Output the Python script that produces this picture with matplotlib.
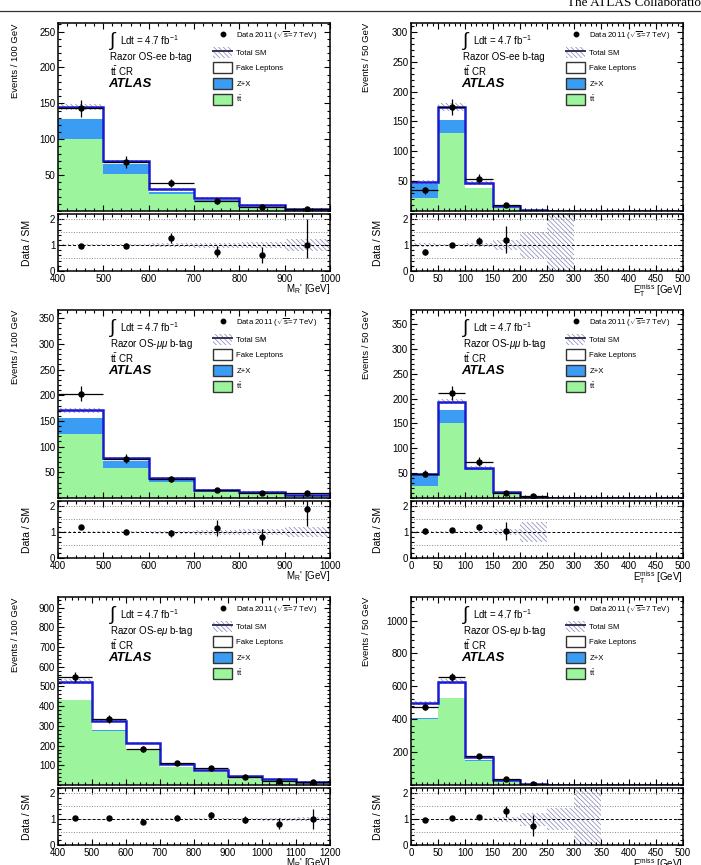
import numpy as np
import matplotlib
matplotlib.use('Agg')
import matplotlib.pyplot as plt
from matplotlib.ticker import MultipleLocator
from matplotlib.patches import Patch
from matplotlib.lines import Line2D

plt.rcParams['font.family'] = ['Liberation Sans', 'DejaVu Sans']
plt.rcParams['mathtext.fontset'] = 'custom'
plt.rcParams['mathtext.rm'] = 'Liberation Sans'
plt.rcParams['mathtext.it'] = 'Liberation Sans:italic'
plt.rcParams['mathtext.bf'] = 'Liberation Sans:bold'
plt.rcParams['hatch.linewidth'] = 0.55

GREEN = '#9cf59c'
BLUE = '#3a9cf2'
TOTAL = '#1a1ad0'
HATCH = '#8c8cbc'
HSTYLE = '\\' * 7

# bin edges
mr_edges = np.arange(400, 1001, 100)
mr_edges_em = np.arange(400, 1201, 100)
met_edges = np.arange(0, 501, 50)

# ---- OS-ee, M_R'
ee_mr_tt = [100, 52, 24, 14, 5.6, 2.0]
ee_mr_zx = [28, 13, 3, 1.5, 0.5, 0.2]
ee_mr_fake = [17, 4, 3, 2.5, 2.0, 0.3]
ee_mr_syst = [0.03, 0.04, 0.07, 0.1, 0.13, 0.22]
ee_mr_data = [143, 68, 39, 14, 5, 2.5]
ee_mr_ratio = [0.98, 0.98, 1.28, 0.75, 0.6, 1.02]
ee_mr_rlo = [0.07, 0.1, 0.2, 0.2, 0.28, 0.5]
ee_mr_rhi = [0.07, 0.1, 0.2, 0.2, 0.32, 1.0]

# ---- OS-ee, MET
ee_met_tt = [21, 130, 38, 6, 1.0, 0.3, 0, 0, 0, 0]
ee_met_zx = [25, 23, 1, 0.5, 0.3, 0.1, 0, 0, 0, 0]
ee_met_fake = [2, 21, 8, 2, 0.7, 0.1, 0, 0, 0, 0]
ee_met_syst = [0.07, 0.04, 0.07, 0.18, 0.5, 1.3, 0, 0, 0, 0]
ee_met_data = [35, 174, 54, 10, 0, 0, 0, 0, 0, 0]
ee_met_ratio = [0.73, 1.0, 1.15, 1.2, np.nan, np.nan, np.nan, np.nan, np.nan, np.nan]
ee_met_rlo = [0.1, 0.07, 0.15, 0.5, 0, 0, 0, 0, 0, 0]
ee_met_rhi = [0.1, 0.07, 0.15, 0.55, 0, 0, 0, 0, 0, 0]

# ---- OS-mumu, M_R'
mm_mr_tt = [125, 59, 32, 12, 9, 3.5]
mm_mr_zx = [31, 13, 5, 2, 1.5, 0.8]
mm_mr_fake = [15, 5, 2, 1.6, 1.5, 0.7]
mm_mr_syst = [0.03, 0.04, 0.06, 0.1, 0.12, 0.18]
mm_mr_data = [203, 76, 37, 15, 9.8, 9.5]
mm_mr_ratio = [1.2, 1.02, 0.95, 1.15, 0.82, 1.9]
mm_mr_rlo = [0.08, 0.1, 0.15, 0.3, 0.3, 0.65]
mm_mr_rhi = [0.08, 0.1, 0.15, 0.3, 0.3, 0.65]

# ---- OS-mumu, MET
mm_met_tt = [23.5, 150, 57, 9, 1.5, 0.3, 0, 0, 0, 0]
mm_met_zx = [22, 27, 1, 1, 0.3, 0.1, 0, 0, 0, 0]
mm_met_fake = [2.5, 17, 3, 1.4, 0.4, 0.1, 0, 0, 0, 0]
mm_met_syst = [0.05, 0.03, 0.04, 0.12, 0.4, 0, 0, 0, 0, 0]
mm_met_data = [49, 211, 73, 11, 4, 0, 0, 0, 0, 0]
mm_met_ratio = [1.05, 1.1, 1.2, 1.05, np.nan, np.nan, np.nan, np.nan, np.nan, np.nan]
mm_met_rlo = [0.12, 0.07, 0.1, 0.35, 0, 0, 0, 0, 0, 0]
mm_met_rhi = [0.12, 0.07, 0.1, 0.35, 0, 0, 0, 0, 0, 0]

# ---- OS-emu, M_R'
em_mr_tt = [430, 275, 176, 91, 66, 40, 25, 16]
em_mr_zx = [3, 2, 1.5, 1, 0.8, 0.5, 0.3, 0.2]
em_mr_fake = [92, 49, 34.5, 15, 8, 3.5, 2.7, 0.8]
em_mr_syst = [0.02, 0.02, 0.025, 0.03, 0.04, 0.05, 0.06, 0.09]
em_mr_data = [548, 335, 183, 113, 85, 42, 22, 15]
em_mr_ratio = [1.04, 1.03, 0.87, 1.06, 1.14, 0.98, 0.82, 1.0]
em_mr_rlo = [0.05, 0.06, 0.07, 0.1, 0.12, 0.15, 0.22, 0.4]
em_mr_rhi = [0.05, 0.06, 0.07, 0.1, 0.12, 0.15, 0.22, 0.4]

# ---- OS-emu, MET
em_met_tt = [400, 527, 147, 26, 5, 1, 0.3, 0, 0, 0]
em_met_zx = [8, 4, 2, 1, 0.3, 0.2, 0.1, 0, 0, 0]
em_met_fake = [90, 98, 20, 3, 1.7, 0.3, 0.1, 0, 0, 0]
em_met_syst = [0.02, 0.02, 0.04, 0.1, 0.25, 0.42, 1.3, 0, 0, 0]
em_met_data = [476, 658, 175, 39, 5, 0, 0, 0, 0, 0]
em_met_ratio = [0.96, 1.04, 1.07, 1.3, 0.75, np.nan, np.nan, np.nan, np.nan, np.nan]
em_met_rlo = [0.05, 0.05, 0.08, 0.22, 0.4, 0, 0, 0, 0, 0]
em_met_rhi = [0.05, 0.05, 0.08, 0.22, 0.4, 0, 0, 0, 0, 0]

channels = ['ee', 'ee', r'$\mu\mu$', r'$\mu\mu$', r'e$\mu$', r'e$\mu$']


def draw_panel(ax, axr, edges, tt, zx, fake, syst, data, ratio, rlo, rhi,
               chan, ymax, ymajor, xmajor, xminor, ylab, xlab, ylx, rlx):
    edges = np.asarray(edges, float)
    tt = np.asarray(tt, float)
    zx = np.asarray(zx, float)
    fake = np.asarray(fake, float)
    syst = np.asarray(syst, float)
    data = np.asarray(data, float)
    total = tt + zx + fake
    centers = 0.5 * (edges[1:] + edges[:-1])
    half = 0.5 * (edges[1] - edges[0])

    # stacked backgrounds
    ax.stairs(tt, edges, baseline=0, fill=True, color=GREEN, lw=0)
    ax.stairs(tt + zx, edges, baseline=tt, fill=True, color=BLUE, lw=0)
    ax.stairs(total, edges, baseline=tt + zx, fill=True, color='white', lw=0)
    ax.stairs(total * (1 + syst), edges, baseline=total * (1 - syst), fill=True,
              facecolor='none', edgecolor=HATCH, hatch=HSTYLE, lw=0)
    ax.stairs(total, edges, baseline=None, color=TOTAL, lw=1.8)

    m = data > 0
    ax.errorbar(centers[m], data[m], xerr=half, yerr=np.sqrt(data[m]), fmt='o',
                color='k', ms=3.6, elinewidth=0.9, capsize=0)

    ax.set_xlim(edges[0], edges[-1])
    ax.set_ylim(0, ymax)
    ax.yaxis.set_major_locator(MultipleLocator(ymajor))
    ax.yaxis.set_minor_locator(MultipleLocator(ymajor / 5))
    ax.set_yticks(np.arange(ymajor, ymax, ymajor))
    ax.set_ylabel(ylab, fontsize=6.8, loc='top')
    ax.yaxis.set_label_coords(ylx, 1.0)
    ax.tick_params(labelbottom=False)

    # annotations
    ax.text(0.205, 0.905, r'$\int$', transform=ax.transAxes, fontsize=14,
            ha='center', va='center')
    ax.text(0.228, 0.91, r'Ldt = 4.7 fb$^{-1}$', transform=ax.transAxes,
            fontsize=7, va='center')
    ax.text(0.19, 0.82, 'Razor OS-' + chan + ' b-tag', transform=ax.transAxes,
            fontsize=7, va='center')
    ax.text(0.19, 0.745, r't$\bar{\mathrm{t}}$ CR', transform=ax.transAxes,
            fontsize=7, va='center')
    ax.text(0.185, 0.675, 'ATLAS', transform=ax.transAxes, fontsize=9.5,
            fontweight='bold', fontstyle='italic', va='center')

    handles = [
        Line2D([], [], marker='o', ls='none', color='k', ms=3.2),
        (Patch(facecolor='white', edgecolor=HATCH, hatch=HSTYLE, lw=0),
         Line2D([], [], color='#333355', lw=1.4)),
        Patch(facecolor='white', edgecolor='#333333', lw=1.0),
        Patch(facecolor=BLUE, edgecolor='#333333', lw=1.0),
        Patch(facecolor=GREEN, edgecolor='#333333', lw=1.0),
    ]
    labels = [r'Data 2011 ($\sqrt{\mathrm{s}}$=7 TeV)', 'Total SM',
              'Fake Leptons', 'Z+X', r't$\bar{\mathrm{t}}$']
    ax.legend(handles, labels, loc='upper left', bbox_to_anchor=(0.57, 0.965),
              frameon=False, fontsize=5.6, handlelength=2.5, handleheight=1.75,
              labelspacing=0.62, handletextpad=0.5, borderpad=0,
              borderaxespad=0)

    # ratio pad
    ratio = np.asarray(ratio, float)
    axr.stairs(1 + syst, edges, baseline=1 - syst, fill=True,
               facecolor='none', edgecolor=HATCH, hatch=HSTYLE, lw=0)
    for yv in (0.5, 1.5, 2.0):
        axr.axhline(yv, color='#888888', ls=':', lw=0.7)
    axr.axhline(1.0, color='k', ls=(0, (3, 2)), lw=0.7)
    mr = ~np.isnan(ratio)
    axr.errorbar(centers[mr], ratio[mr],
                 yerr=[np.asarray(rlo)[mr], np.asarray(rhi)[mr]], fmt='o',
                 color='k', ms=3.6, elinewidth=0.9, capsize=0)
    axr.set_xlim(edges[0], edges[-1])
    axr.set_ylim(0, 2.2)
    axr.set_yticks([0, 1, 2])
    axr.yaxis.set_minor_locator(MultipleLocator(0.2))
    axr.set_ylabel('Data / SM', fontsize=7.5)
    axr.yaxis.set_label_coords(rlx, 0.5)
    axr.set_xlabel(xlab, fontsize=7, loc='right')
    axr.xaxis.set_label_coords(1.0, -0.2)

    for a in (ax, axr):
        a.xaxis.set_major_locator(MultipleLocator(xmajor))
        a.xaxis.set_minor_locator(MultipleLocator(xminor))
        a.tick_params(which='both', direction='in', top=True, right=True,
                      labelsize=7, width=0.8, pad=2)
        a.tick_params(which='major', length=4.5)
        a.tick_params(which='minor', length=2.2)
        for s in a.spines.values():
            s.set_linewidth(1.1)


fig = plt.figure(figsize=(7.01, 8.65), dpi=100)

W = 272 / 701
xl = 58 / 701
xr = 411 / 701
main_h = 188 / 865
rat_h = 57 / 865
main_b = [1 - 211 / 865, 1 - 498 / 865, 1 - 785 / 865]
rat_b = [1 - 271 / 865, 1 - 558 / 865, 1 - 845 / 865]

mr_lab = r"M$_{\mathrm{R}}$' [GeV]"
met_lab = r'E$_{\mathrm{T}}^{\mathrm{miss}}$ [GeV]'

panels = [
    (0, xl, mr_edges, ee_mr_tt, ee_mr_zx, ee_mr_fake, ee_mr_syst, ee_mr_data,
     ee_mr_ratio, ee_mr_rlo, ee_mr_rhi, 262, 50, 100, 20, 'Events / 100 GeV', mr_lab),
    (0, xr, met_edges, ee_met_tt, ee_met_zx, ee_met_fake, ee_met_syst, ee_met_data,
     ee_met_ratio, ee_met_rlo, ee_met_rhi, 315, 50, 50, 10, 'Events / 50 GeV', met_lab),
    (1, xl, mr_edges, mm_mr_tt, mm_mr_zx, mm_mr_fake, mm_mr_syst, mm_mr_data,
     mm_mr_ratio, mm_mr_rlo, mm_mr_rhi, 366, 50, 100, 20, 'Events / 100 GeV', mr_lab),
    (1, xr, met_edges, mm_met_tt, mm_met_zx, mm_met_fake, mm_met_syst, mm_met_data,
     mm_met_ratio, mm_met_rlo, mm_met_rhi, 378, 50, 50, 10, 'Events / 50 GeV', met_lab),
    (2, xl, mr_edges_em, em_mr_tt, em_mr_zx, em_mr_fake, em_mr_syst, em_mr_data,
     em_mr_ratio, em_mr_rlo, em_mr_rhi, 954, 100, 100, 20, 'Events / 100 GeV', mr_lab),
    (2, xr, met_edges, em_met_tt, em_met_zx, em_met_fake, em_met_syst, em_met_data,
     em_met_ratio, em_met_rlo, em_met_rhi, 1143, 200, 50, 10, 'Events / 50 GeV', met_lab),
]

for i, p in enumerate(panels):
    row, x0 = p[0], p[1]
    ax = fig.add_axes([x0, main_b[row], W, main_h])
    axr = fig.add_axes([x0, rat_b[row], W, rat_h])
    left = x0 == xl
    draw_panel(ax, axr, p[2], p[3], p[4], p[5], p[6], p[7], p[8], p[9], p[10],
               channels[i], p[11], p[12], p[13], p[14], p[15], p[16],
               -0.14 if left else -0.147, -0.096 if left else -0.103)

# page header
fig.add_artist(Line2D([0, 1], [1 - 11 / 865, 1 - 11 / 865],
                      transform=fig.transFigure, color='#333333', lw=0.9))
fig.text(567 / 701, 1 - 6.5 / 865, 'The ATLAS Collaboration',
         family=['Liberation Serif', 'DejaVu Serif'], fontsize=9.5,
         va='baseline')

fig.savefig('out.png', dpi=100)
